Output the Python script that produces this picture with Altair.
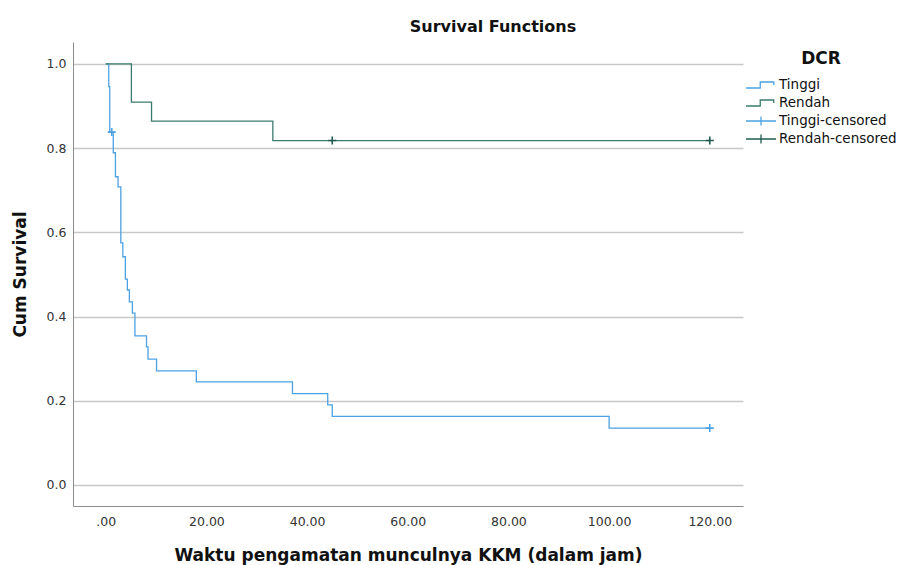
import altair as alt
import pandas as pd

# ---- data ----
series_names = ["Tinggi", "Rendah", "Tinggi-censored", "Rendah-censored"]
series_colors = ["#4DA2E4", "#3C7C6E", "#4DA2E4", "#1F5B4F"]

tinggi_time = [0.0, 0.6, 0.8, 1.5, 1.93, 2.45, 3.0, 3.4, 3.9, 4.3, 4.7, 5.3, 5.8,
               8.1, 8.4, 10.1, 18.0, 37.1, 44.1, 45.0, 100.0, 120.0]
tinggi_surv = [1.0, 0.946, 0.838, 0.789, 0.732, 0.708, 0.575, 0.542, 0.489, 0.463,
               0.435, 0.408, 0.354, 0.328, 0.299, 0.271, 0.245, 0.217, 0.19, 0.163,
               0.135, 0.135]

rendah_time = [0.0, 5.1, 9.1, 33.2, 120.0]
rendah_surv = [1.0, 0.909, 0.864, 0.818, 0.818]

tinggi_cens_time = [1.2, 120.0]
tinggi_cens_surv = [0.838, 0.135]
rendah_cens_time = [45.0, 120.0]
rendah_cens_surv = [0.818, 0.818]

x_ticks = [0, 20, 40, 60, 80, 100, 120]
y_ticks = [0.0, 0.2, 0.4, 0.6, 0.8, 1.0]

# legend symbols: step line for curves, long "+" for censored
step_path = "M-1,0.2H-0.05V-0.2H0.85V0"
cens_path = "M-1,0H1M0,-0.3V0.3"
legend_shapes = [step_path, step_path, cens_path, cens_path]
plus_path = "M-1,0H1M0,-1V1"

# ---- tables ----
lines_df = pd.concat([
    pd.DataFrame({"time": tinggi_time, "surv": tinggi_surv, "series": "Tinggi"}),
    pd.DataFrame({"time": rendah_time, "surv": rendah_surv, "series": "Rendah"}),
], ignore_index=True)

cens_df = pd.concat([
    pd.DataFrame({"time": tinggi_cens_time, "surv": tinggi_cens_surv, "series": "Tinggi-censored"}),
    pd.DataFrame({"time": rendah_cens_time, "surv": rendah_cens_surv, "series": "Rendah-censored"}),
], ignore_index=True)

legend_df = pd.DataFrame({"time": [-1000.0] * 4, "surv": [0.5] * 4, "series": series_names})

FONT = "DejaVu Sans"

x_enc = alt.X(
    "time:Q",
    scale=alt.Scale(domain=[-6.5, 126.6], nice=False, zero=False),
    axis=alt.Axis(
        values=x_ticks,
        labelExpr="datum.value == 0 ? '.00' : format(datum.value, '.2f')",
        title="Waktu pengamatan munculnya KKM (dalam jam)",
        grid=False, ticks=False, tickSize=0, labelPadding=9,
        titleX=335, titleY=49, titleBaseline="middle", titleAlign="center",
    ),
)
y_enc = alt.Y(
    "surv:Q",
    scale=alt.Scale(domain=[-0.05, 1.052], nice=False, zero=False),
    axis=alt.Axis(
        values=y_ticks, format=".1f", title="Cum Survival",
        grid=True, ticks=False, tickSize=0, labelPadding=7,
        titleX=-53, titleY=232, titleBaseline="middle", titleAlign="center",
    ),
)

color_scale = alt.Scale(domain=series_names, range=series_colors)


def make_legend():
    return alt.Legend(
        title="DCR", orient="none", legendX=672, legendY=9,
        titleFont=FONT, titleFontSize=17, titleFontWeight="bold", titleColor="#111",
        titleAnchor="middle", titlePadding=9,
        labelFont=FONT, labelFontSize=13.5, labelColor="#111", labelOffset=2,
        symbolSize=900, symbolStrokeWidth=1.3, symbolFillColor="transparent",
        clipHeight=16, rowPadding=2, padding=0,
    )


color_enc = alt.Color("series:N", scale=color_scale, legend=make_legend())

lines = alt.Chart(lines_df).mark_line(interpolate="step-after", strokeWidth=1.3).encode(
    x=x_enc, y=y_enc, color=color_enc,
)

cens = alt.Chart(cens_df).mark_point(shape=plus_path, size=64, filled=False,
                                     strokeWidth=1.6, opacity=1).encode(
    x=x_enc, y=y_enc, color=color_enc,
)

legend_layer = alt.Chart(legend_df).mark_point(filled=False, clip=True, strokeWidth=1.3,
                                               opacity=1).encode(
    x=x_enc, y=y_enc, color=color_enc,
    shape=alt.Shape("series:N", scale=alt.Scale(domain=series_names, range=legend_shapes),
                    legend=make_legend()),
)

chart = alt.layer(lines, cens, legend_layer).properties(
    width=670, height=464,
    title=alt.TitleParams("Survival Functions", font=FONT, fontSize=16, fontWeight="bold",
                          color="#111", anchor="middle", dx=85, dy=19, offset=10,
                          baseline="bottom", frame="group"),
    autosize=alt.AutoSizeParams(type="none"),
    padding={"left": 65, "top": 34, "right": 155, "bottom": 60},
).configure_view(stroke=None).configure_axis(
    domainColor="#8c8c8c", domainWidth=1,
    labelFont=FONT, labelFontSize=12.5, labelColor="#333",
    titleFont=FONT, titleFontSize=17, titleFontWeight="bold", titleColor="#111",
    gridColor="#c8c8c8", gridWidth=1.4,
)

chart.save("out.html", embed_options={"renderer": "svg", "actions": False})
